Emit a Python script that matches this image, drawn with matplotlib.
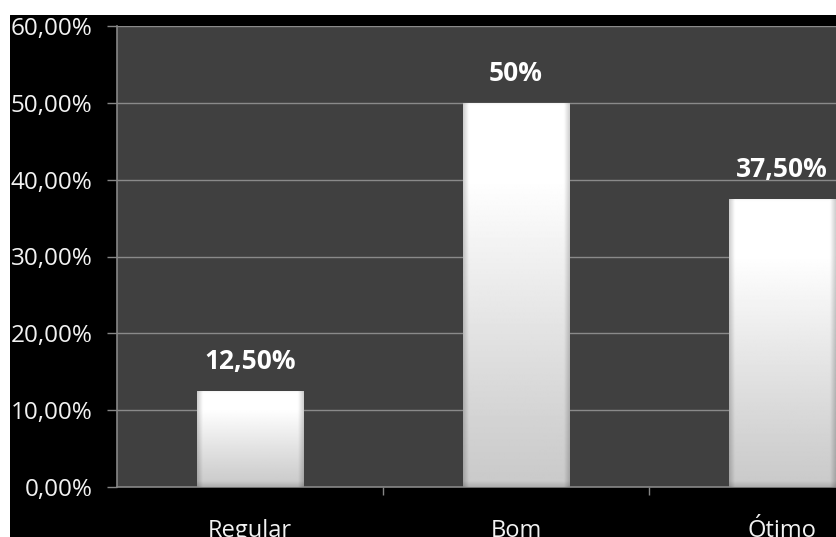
import matplotlib
matplotlib.use("Agg")
import matplotlib.pyplot as plt
import numpy as np

categories = ["Regular", "Bom", "Ótimo"]
values = [12.5, 50.0, 37.5]
value_labels = ["12,50%", "50%", "37,50%"]
yticks = [0, 10, 20, 30, 40, 50, 60]
ytick_labels = ["0,00%", "10,00%", "20,00%", "30,00%", "40,00%", "50,00%", "60,00%"]

W, H = 837, 537
fig = plt.figure(figsize=(W / 100, H / 100), dpi=100, facecolor="white")
# black background panel (screenshot crop leaves white border top/left)
bg = fig.add_axes([10 / W, 0, 1 - 10 / W, 1 - 15 / H], zorder=-1)
bg.set_axis_off()
bg.add_patch(plt.Rectangle((0, 0), 1, 1, transform=bg.transAxes, color="black"))

left, right = 117 / W, 915 / W
bottom, top = (H - 487) / H, (H - 26) / H
ax = fig.add_axes([left, bottom, right - left, top - bottom], zorder=1)
ax.set_facecolor("#404040")
ax.set_xlim(-0.5, 2.5)
ax.set_ylim(0, 60)

x = np.arange(len(categories))
bars = ax.bar(x, values, width=0.40, color="none", edgecolor="none", zorder=3)

# pixel scale for bevel sizes
ax_h_px = (top - bottom) * H
ax_w_px = (right - left) * W
px_per_y = ax_h_px / 60.0
px_per_x = ax_w_px / 3.0

for b in bars:
    x0, y0 = b.get_x(), b.get_y()
    w, h = b.get_width(), b.get_height()
    wp, hp = int(round(w * px_per_x)), int(round(h * px_per_y))
    yy = (np.arange(hp)[:, None] + 0.5) / hp        # 0 bottom -> 1 top
    xx = (np.arange(wp)[None, :] + 0.5)              # pixel
    yp = np.arange(hp)[:, None] + 0.5                 # pixel from bottom
    # vertical gradient: white top, gray bottom
    base = np.where(yy > 0.8, 1.0, 0.79 + 0.21 * (yy / 0.8) ** 1.1)
    # bevel edges
    side = np.minimum(xx, wp - xx)
    side_f = 0.80 + 0.20 * np.clip(side / 6.0, 0, 1)
    bot_f = 0.86 + 0.14 * np.clip(yp / 6.0, 0, 1)
    top_f = 0.93 + 0.07 * np.clip((hp - yp) / 3.0, 0, 1)
    g = base * side_f * bot_f * top_f
    im = ax.imshow(g, extent=[x0, x0 + w, y0, y0 + h], origin="lower",
                   cmap="gray", vmin=0, vmax=1, aspect="auto", zorder=3,
                   interpolation="bilinear")
    im.set_clip_path(b)

for xi, v, lab in zip(x, values, value_labels):
    ax.text(xi, v + 2.85, lab, ha="center", va="baseline", color="white",
            fontsize=19, fontweight="bold", family="Open Sans", zorder=4)

ax.set_yticks(yticks)
ax.set_yticklabels(ytick_labels, family="Open Sans", fontsize=17.5, color="#f2f2f2")
ax.set_xticks(x)
ax.set_xticklabels(categories, family="Open Sans", fontsize=17, color="#f2f2f2")
ax.tick_params(axis="x", length=0, pad=23)
ax.set_xticks([0.5, 1.5, 2.5], minor=True)
ax.tick_params(axis="x", which="minor", length=5.8, width=1, color="#868686", direction="out")
ax.tick_params(axis="y", length=7.2, width=1, color="#868686", pad=10.5)

ax.grid(axis="y", color="#8a8a8a", linewidth=1)
ax.set_axisbelow(True)
for s in ["top", "right"]:
    ax.spines[s].set_visible(False)
for s in ["left", "bottom"]:
    ax.spines[s].set_color("#868686")
    ax.spines[s].set_linewidth(1.2)

fig.savefig("out.png", dpi=100, facecolor="white")
